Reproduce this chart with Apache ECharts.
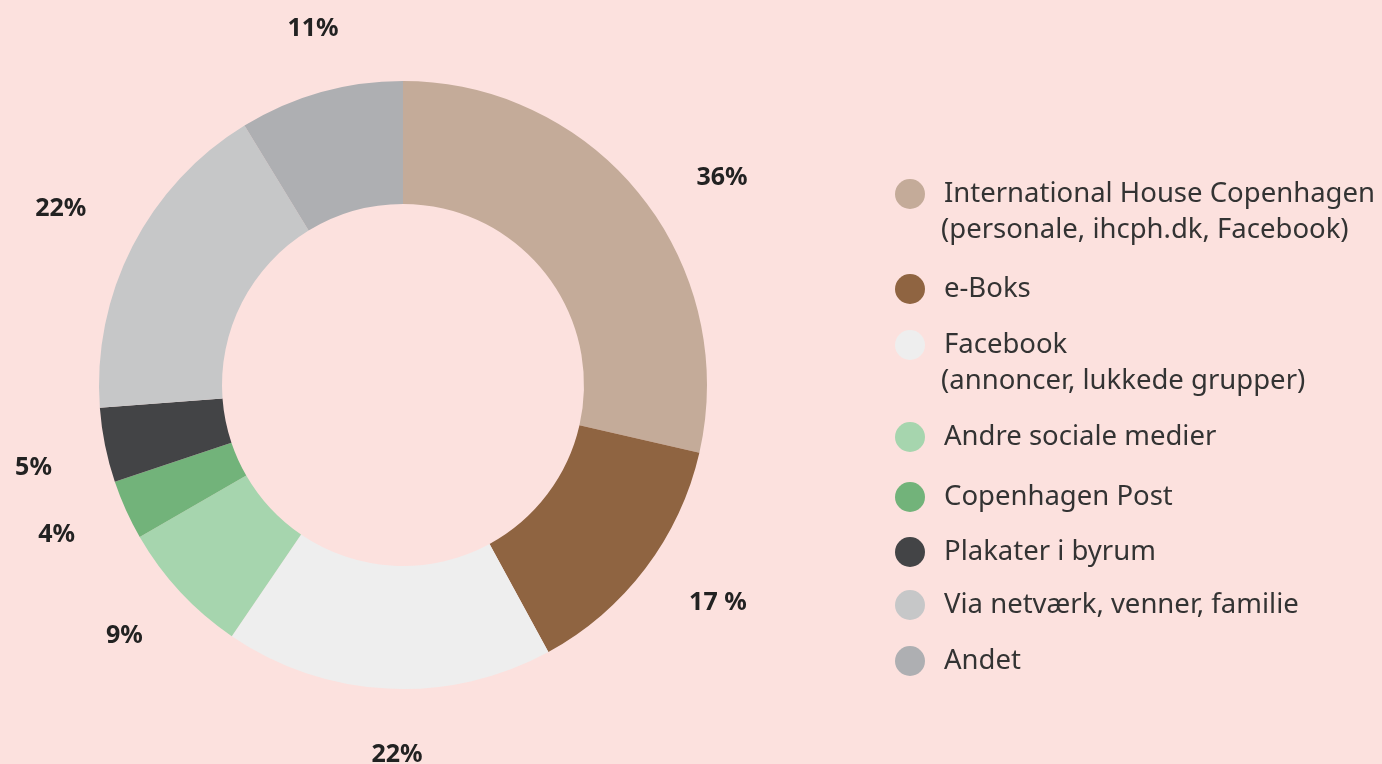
<!DOCTYPE html>
<html>
<head>
<meta charset="utf-8">
<script src="https://cdn.jsdelivr.net/npm/echarts@6/dist/echarts.min.js"></script>
<style>
  html, body { margin: 0; padding: 0; background: #fce1de; }
  #chart { width: 1382px; height: 764px; }
</style>
</head>
<body>
<div id="chart"></div>
<script>
// categories in drawing order (clockwise from top)
var categories = [
    'International House Copenhagen',
    'e-Boks',
    'Facebook',
    'Andre sociale medier',
    'Copenhagen Post',
    'Plakater i byrum',
    'Via netværk, venner, familie',
    'Andet'
];
// second line shown under some legend entries
var categoryNotes = ['(personale, ihcph.dk, Facebook)', '', '(annoncer, lukkede grupper)', '', '', '', '', ''];
var values = [36, 17, 22, 9, 4, 5, 22, 11];
var valueLabels = ['36%', '17 %', '22%', '9%', '4%', '5%', '22%', '11%'];
var colors = ['#c4ab99', '#8f6441', '#eeeeee', '#a6d5ae', '#72b37a', '#434446', '#c6c7c8', '#aeafb2'];

// layout tweaks: legend row centres and label nudges (px)
var legendRows = [194, 289, 345, 437, 497, 552, 605, 661];
var labelNudge = [[22, 30], [12, -12], [13, -10], [0, -8], [0, -6], [3, 8], [-4, -3], [13, 10]];

var myChart = echarts.init(document.getElementById('chart'));

var pieData = categories.map(function (name, i) {
    return { name: name, value: values[i], itemStyle: { color: colors[i] } };
});

var legends = categories.map(function (name, i) {
    return {
        data: [name],
        left: 895,
        top: legendRows[i] - 15,
        padding: 0,
        icon: 'circle',
        itemWidth: 30,
        itemHeight: 30,
        selectedMode: false,
        textStyle: {
            fontFamily: 'Noto Sans',
            fontSize: 27.5,
            color: '#333333',
            lineHeight: 30,
            padding: [0, 0, 0, 14]
        }
    };
});

var notes = [];
categoryNotes.forEach(function (txt, i) {
    if (!txt) return;
    notes.push({
        type: 'text',
        left: 941,
        top: legendRows[i] + 22,
        style: {
            text: txt,
            fontFamily: 'Noto Sans',
            fontSize: 27.5,
            fill: '#333333'
        }
    });
});

var option = {
    backgroundColor: '#fce1de',
    animation: false,
    legend: legends,
    graphic: notes,
    series: [
        {
            type: 'pie',
            center: [403, 385],
            radius: [181, 304],
            startAngle: 90,
            clockwise: true,
            silent: true,
            label: { show: false },
            labelLine: { show: false },
            itemStyle: { borderWidth: 0 },
            data: pieData
        },
        {
            // transparent ring only used to place the percentage labels
            type: 'pie',
            center: [403, 385],
            radius: [372, 382],
            startAngle: 90,
            clockwise: true,
            silent: true,
            itemStyle: { color: 'rgba(0,0,0,0)' },
            label: {
                show: true,
                position: 'inside',
                formatter: function (p) { return valueLabels[p.dataIndex]; },
                fontFamily: 'Noto Sans',
                fontWeight: 'bold',
                fontSize: 25,
                color: '#222222'
            },
            labelLine: { show: false },
            data: categories.map(function (name, i) {
                return { name: name, value: values[i], label: { offset: labelNudge[i] } };
            })
        }
    ]
};

myChart.setOption(option);
</script>
</body>
</html>
